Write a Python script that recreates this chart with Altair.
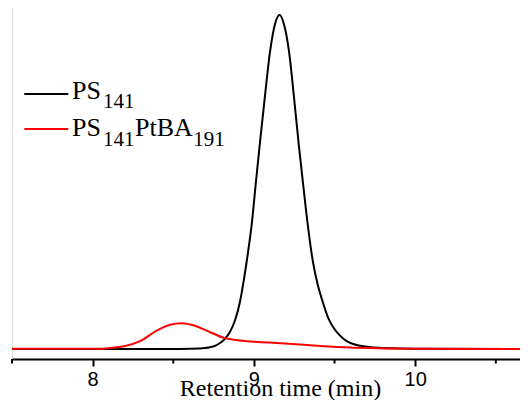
import altair as alt
import pandas as pd

# --- data ---
ps_time = [7.50, 8.542, 8.666, 8.697, 8.728, 8.759, 8.790, 8.821, 8.852, 8.883,
           8.914, 8.938, 8.963, 8.988, 9.011, 9.038, 9.069, 9.100, 9.131, 9.159,
           9.186, 9.217, 9.248, 9.279, 9.304, 9.335, 9.366, 9.397, 9.422, 9.459,
           9.496, 9.534, 9.571, 9.627, 9.689, 9.781, 9.905, 10.091, 10.70]
ps_signal = [0, 0, 0.5, 1, 1.8, 3.2, 6, 10.5, 17.5, 29,
             48, 70, 97, 128, 166, 209, 256, 300, 328, 337,
             328, 301, 255, 205, 168, 124, 88, 64, 50, 32,
             21, 13.5, 8.5, 4.5, 2.5, 1.2, 0.6, 0.2, 0]

cop_time = [7.50, 8.046, 8.108, 8.201, 8.294, 8.397, 8.480, 8.552, 8.635, 8.707,
            8.810, 8.914, 9.118, 9.285, 9.428, 9.637, 10.029, 10.70]
cop_signal = [0.3, 0.3, 1, 3, 8, 18.5, 24.5, 26, 23.5, 18.5,
              11.5, 8.5, 6.3, 4.5, 2.7, 1.3, 0.3, 0]

major_ticks = [8, 9, 10]
minor_ticks = [7.5, 8.5, 9.5, 10.5]

ps_df = pd.DataFrame({"time": ps_time, "signal": ps_signal})
cop_df = pd.DataFrame({"time": cop_time, "signal": cop_signal})
minor_df = pd.DataFrame({"time": minor_ticks})

xscale = alt.Scale(domain=[7.5, 10.65], nice=False, zero=False)
yscale = alt.Scale(domain=[-10.1, 346.1], nice=False, zero=False)

SERIF = "Liberation Serif"

xaxis = alt.Axis(
    values=major_ticks, format="d", title="Retention time (min)",
    grid=False, domainColor="black", domainWidth=2, tickColor="black",
    tickWidth=2, tickSize=7, labelFont="Liberation Sans", labelFontSize=20,
    labelColor="black", labelBaseline="alphabetic", labelPadding=19,
    titleFont=SERIF, titleFontSize=24, titleFontWeight="normal",
    titleColor="black", titleX=268, titleY=36, titleAlign="center",
    titleBaseline="alphabetic",
)

ps_line = alt.Chart(ps_df).mark_line(color="black", strokeWidth=2, interpolate="monotone").encode(
    x=alt.X("time:Q", scale=xscale, axis=xaxis),
    y=alt.Y("signal:Q", scale=yscale, axis=None),
)
cop_line = alt.Chart(cop_df).mark_line(color="#ff0000", strokeWidth=2, interpolate="monotone").encode(
    x=alt.X("time:Q", scale=xscale),
    y=alt.Y("signal:Q", scale=yscale),
)
minor = alt.Chart(minor_df).mark_rule(color="black", strokeWidth=2).encode(
    x=alt.X("time:Q", scale=xscale),
    y=alt.value(353), y2=alt.value(357.5),
)

def legend_rule(y, color):
    return alt.Chart(pd.DataFrame({"k": [0]})).mark_rule(color=color, strokeWidth=2).encode(
        x=alt.value(12.3), x2=alt.value(56.3), y=alt.value(y))

def legend_text(txt, x, y, size):
    return alt.Chart(pd.DataFrame({"k": [0]})).mark_text(
        text=txt, font=SERIF, fontSize=size, color="black",
        align="left", baseline="alphabetic").encode(x=alt.value(x), y=alt.value(y))

layers = [
    ps_line, cop_line, minor,
    legend_rule(88, "black"), legend_rule(123, "#ff0000"),
    legend_text("PS", 60, 93.3, 26), legend_text("141", 91, 102.3, 21),
    legend_text("PS", 60, 129.7, 26), legend_text("141", 91, 139.5, 21),
    legend_text("PtBA", 123, 129.7, 26), legend_text("191", 181.3, 139.5, 21),
]

chart = alt.layer(*layers).properties(
    width=508, height=353,
    padding={"left": 4, "top": -2, "right": 0, "bottom": 41},
    autosize="none",
).configure_view(stroke=None).configure(background="white").configure_axis(
    titleFont=SERIF, labelFont="Liberation Sans")

chart.save("out.html", embed_options={"renderer": "svg", "actions": False})
